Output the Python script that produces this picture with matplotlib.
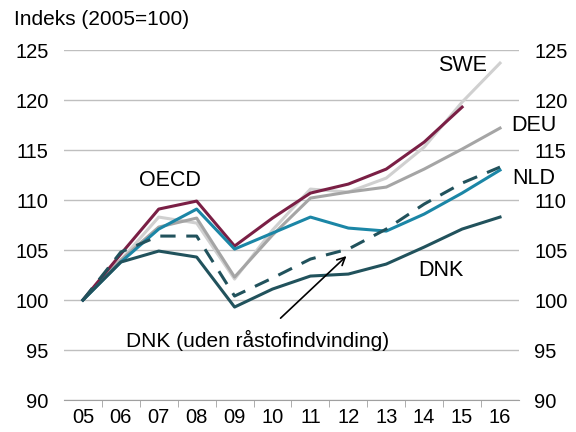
import matplotlib
matplotlib.use("Agg")
import matplotlib.pyplot as plt

plt.rcParams["font.family"] = ["Liberation Sans", "DejaVu Sans"]

years = ["05", "06", "07", "08", "09", "10", "11", "12", "13", "14", "15", "16"]

swe = [100, 104.0, 108.3, 107.7, 102.1, 107.0, 111.1, 110.8, 112.2, 115.3, 119.8, 123.7]
deu = [100, 104.0, 107.3, 108.2, 102.3, 106.5, 110.2, 110.8, 111.3, 113.1, 115.1, 117.2]
oecd = [100, 104.6, 109.1, 109.9, 105.4, 108.2, 110.7, 111.6, 113.1, 115.8, 119.3]
nld = [100, 103.8, 107.1, 109.1, 105.1, 106.7, 108.3, 107.2, 106.9, 108.6, 110.7, 113.0]
dnk = [100, 103.8, 104.9, 104.3, 99.3, 101.1, 102.4, 102.6, 103.6, 105.3, 107.1, 108.3]
dnk_ex = [100, 104.8, 106.4, 106.4, 100.4, 102.2, 104.1, 105.1, 107.1, 109.6, 111.7, 113.3]

x = list(range(len(years)))

fig = plt.figure(figsize=(5.76, 4.32), dpi=100)
ax = fig.add_axes([0.111, 0.074, 0.79, 0.81])

ax.plot(x, swe, color="#D0D0D0", lw=2.2)
ax.plot(x, deu, color="#A5A5A5", lw=2.2)
ax.plot(x[:len(oecd)], oecd, color="#7A1F45", lw=2.2)
ax.plot(x, nld, color="#1B86A6", lw=2.2)
ax.plot(x, dnk_ex, color="#21525C", lw=2.2, dashes=(5, 3.5))
ax.plot(x, dnk, color="#21525C", lw=2.2)

ax.set_xlim(-0.5, len(years) - 0.5)
ax.set_ylim(90, 125)
ax.set_yticks(range(90, 126, 5))
ax.set_xticks(x)
ax.set_xticklabels(years)
ax.set_xticks([i + 0.5 for i in x[:-1]], minor=True)
ax.tick_params(axis="x", which="major", length=0, labelsize=14.5, pad=6)
ax.tick_params(axis="x", which="minor", length=5, color="#A0A0A0", direction="out")
ax.tick_params(axis="y", length=0, labelsize=14.5, pad=11, labelright=True)
ax.yaxis.grid(True, color="#BFBFBF", lw=1)
ax.set_axisbelow(True)
for s in ["left", "right", "top"]:
    ax.spines[s].set_visible(False)
ax.spines["bottom"].set_color("#A0A0A0")

fig.text(0.024, 0.955, "Indeks (2005=100)", fontsize=15, va="center")

ax.text(10.0, 123.5, "SWE", fontsize=15.5, ha="center", va="center")
ax.text(11.9, 117.5, "DEU", fontsize=15.5, ha="center", va="center")
ax.text(11.9, 112.2, "NLD", fontsize=15.5, ha="center", va="center")
ax.text(2.3, 112.0, "OECD", fontsize=15.5, ha="center", va="center")
ax.text(9.45, 103.0, "DNK", fontsize=15.5, ha="center", va="center")
ax.annotate("DNK (uden råstofindvinding)", xy=(6.95, 104.4), xytext=(4.6, 96.0),
            fontsize=15, ha="center", va="center",
            arrowprops=dict(arrowstyle="->", color="black", lw=1.2,
                            shrinkA=9, shrinkB=0, mutation_scale=14))

fig.savefig("out.png", dpi=100)
